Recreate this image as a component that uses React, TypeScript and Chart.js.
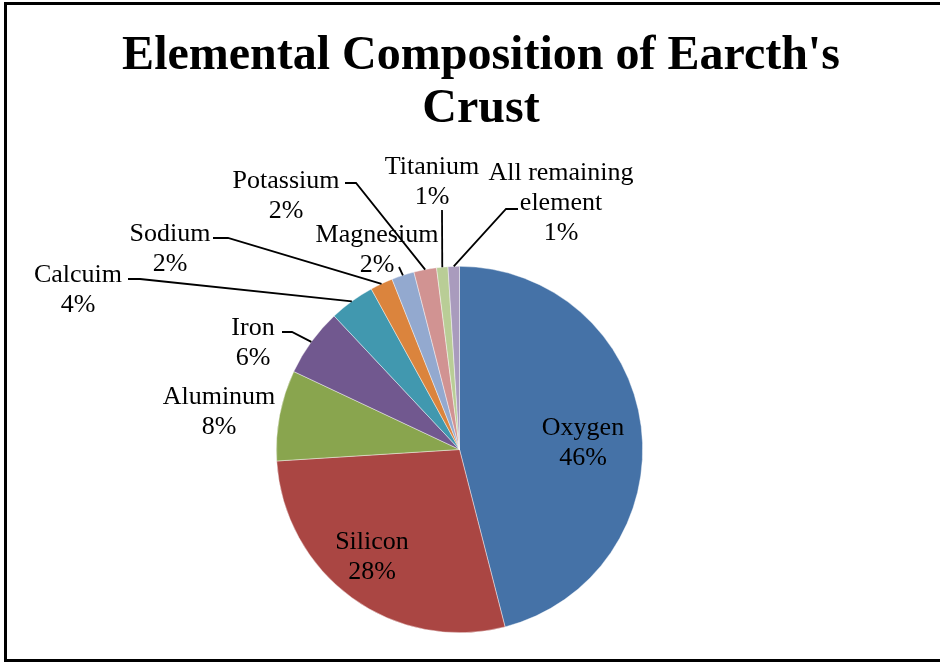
import React, { useEffect, useRef } from "react";
import { Chart, registerables } from "chart.js";

Chart.register(...registerables);

const TITLE_LINES = ["Elemental Composition of Earcth's", "Crust"];
const CATEGORIES = [
  "Oxygen",
  "Silicon",
  "Aluminum",
  "Iron",
  "Calcuim",
  "Sodium",
  "Magnesium",
  "Potassium",
  "Titanium",
  "All remaining element",
];
const VALUES = [46, 28, 8, 6, 4, 2, 2, 2, 1, 1];
const COLORS = [
  "#4572A7",
  "#AA4643",
  "#89A54E",
  "#71588F",
  "#4198AF",
  "#DB843D",
  "#93A9CF",
  "#D19392",
  "#B9CD96",
  "#A99BBD",
];

// label layout: text centre x, first baseline y, optional wrap (words on first line),
// optional leader path (points before the slice edge)
type Layout = { cx: number; by: number; wrap?: number; leader?: [number, number][] };
const LABEL_LAYOUT: Layout[] = [
  { cx: 583, by: 435 },
  { cx: 372, by: 549 },
  { cx: 219, by: 404 },
  { cx: 253, by: 335, leader: [[282, 332], [292, 332]] },
  { cx: 78, by: 282, leader: [[128, 279], [140, 279]] },
  { cx: 170, by: 241, leader: [[213, 238], [228, 238]] },
  { cx: 377, by: 242, leader: [[399, 267]] },
  { cx: 286, by: 188, leader: [[345, 183], [356, 183]] },
  { cx: 432, by: 174, leader: [[442, 210]] },
  { cx: 561, by: 180, wrap: 2, leader: [[518, 209], [506, 209]] },
];

const decorPlugin = {
  id: "decor",
  afterDraw(chart: any) {
    const ctx = chart.ctx as CanvasRenderingContext2D;
    ctx.save();
    // frame
    ctx.strokeStyle = "#000";
    ctx.lineWidth = 3;
    ctx.strokeRect(5.5, 3.5, 1000, 657);

    // title
    ctx.fillStyle = "#000";
    ctx.textAlign = "center";
    ctx.textBaseline = "alphabetic";
    ctx.font = 'bold 48px "Liberation Serif", "Times New Roman", serif';
    ctx.fillText(TITLE_LINES[0], 481, 69);
    ctx.fillText(TITLE_LINES[1], 481, 122);

    // labels
    const meta = chart.getDatasetMeta(0);
    ctx.font = '26px "Liberation Serif", "Times New Roman", serif';
    const lh = 30;
    meta.data.forEach((arc: any, i: number) => {
      const lay = LABEL_LAYOUT[i];
      const name = CATEGORIES[i];
      let lines: string[];
      if (lay.wrap) {
        const words = name.split(" ");
        lines = [words.slice(0, lay.wrap).join(" "), words.slice(lay.wrap).join(" ")];
      } else {
        lines = [name];
      }
      lines.push(VALUES[i] + "%");
      lines.forEach((t, k) => ctx.fillText(t, lay.cx, lay.by + k * lh));

      if (lay.leader) {
        const p = arc.getProps(["x", "y", "startAngle", "endAngle", "outerRadius"], true);
        const mid = (p.startAngle + p.endAngle) / 2;
        const ex = p.x + p.outerRadius * Math.cos(mid);
        const ey = p.y + p.outerRadius * Math.sin(mid);
        ctx.beginPath();
        ctx.lineWidth = 1.8;
        ctx.strokeStyle = "#000";
        ctx.moveTo(lay.leader[0][0], lay.leader[0][1]);
        for (let k = 1; k < lay.leader.length; k++) ctx.lineTo(lay.leader[k][0], lay.leader[k][1]);
        ctx.lineTo(ex, ey);
        ctx.stroke();
      }
    });
    ctx.restore();
  },
};

export default function App() {
  const ref = useRef<HTMLCanvasElement | null>(null);
  useEffect(() => {
    if (!ref.current) return;
    const chart = new Chart(ref.current, {
      type: "pie",
      data: {
        labels: CATEGORIES,
        datasets: [
          {
            data: VALUES,
            backgroundColor: COLORS,
            borderColor: "rgba(255,255,255,0.6)",
            borderWidth: 0.7,
          },
        ],
      },
      options: {
        responsive: false,
        animation: false,
        devicePixelRatio: 1,
        layout: { padding: { left: 276, right: 297, top: 266, bottom: 31 } },
        plugins: {
          legend: { display: false },
          title: { display: false },
          tooltip: { enabled: false },
        },
      },
      plugins: [decorPlugin],
    });
    return () => chart.destroy();
  }, []);
  return (
    <div style={{ position: "fixed", left: 0, top: 0, width: 940, height: 664, background: "#fff" }}>
      <canvas ref={ref} width={940} height={664} style={{ display: "block", width: 940, height: 664 }} />
    </div>
  );
}
